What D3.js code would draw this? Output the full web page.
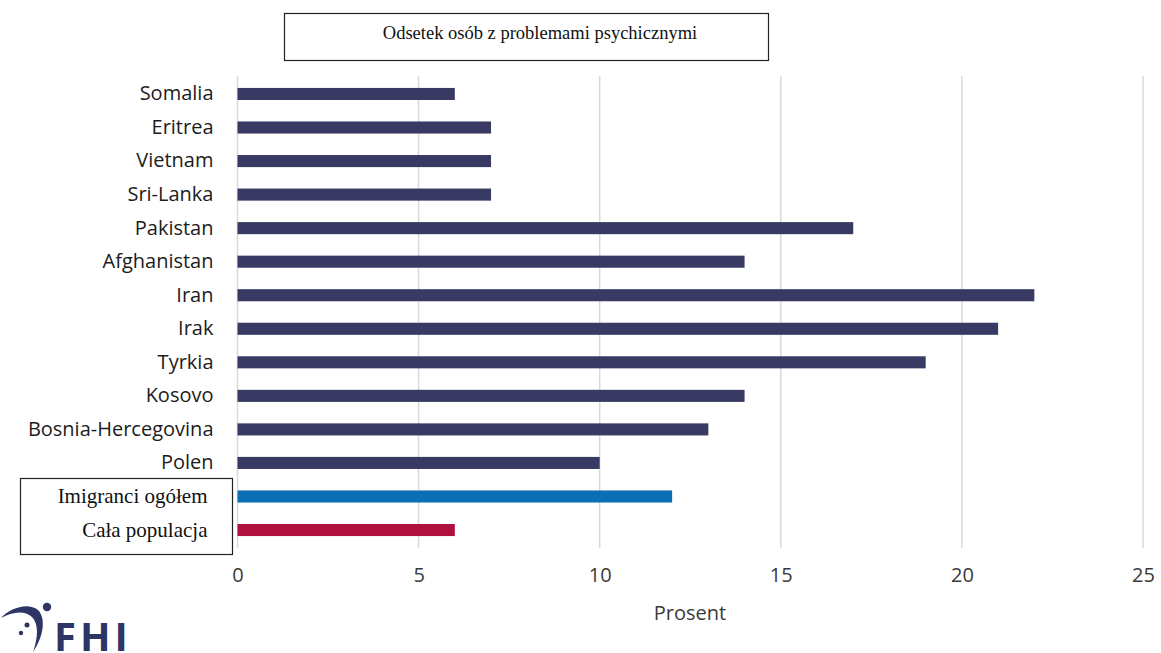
<!DOCTYPE html>
<html>
<head>
<meta charset="utf-8">
<script src="https://cdn.jsdelivr.net/npm/d3@7"></script>
<style>
  html, body { margin: 0; padding: 0; background: #fff; }
  svg { display: block; }
</style>
</head>
<body>
<svg id="chart" width="1161" height="653"></svg>
<script>
// Share of people with mental health problems, by country of origin
const categories = [
  "Somalia", "Eritrea", "Vietnam", "Sri-Lanka", "Pakistan", "Afghanistan",
  "Iran", "Irak", "Tyrkia", "Kosovo", "Bosnia-Hercegovina", "Polen",
  "Imigranci ogółem", "Cała populacja"
];
const values = [6, 7, 7, 7, 17, 14, 22, 21, 19, 14, 13, 10, 12, 6];
const groups = [
  "country", "country", "country", "country", "country", "country",
  "country", "country", "country", "country", "country", "country",
  "immigrants", "population"
];
const xTicks = [0, 5, 10, 15, 20, 25];
const titleText = "Odsetek osób z problemami psychicznymi";
const xAxisTitle = "Prosent";

const colors = { country: "#383a63", immigrants: "#0a6fb5", population: "#b0103f" };

const svg = d3.select("#chart");
const plot = { left: 237.5, right: 1143, top: 76, bottom: 548 };

const x = d3.scaleLinear().domain([0, 25]).range([plot.left, plot.right]);
const y = d3.scaleBand().domain(categories).range([77.2, 546.8]).paddingInner(0.64).paddingOuter(0.32);

// vertical gridlines
svg.append("g")
  .selectAll("line")
  .data(xTicks)
  .join("line")
  .attr("x1", d => x(d)).attr("x2", d => x(d))
  .attr("y1", plot.top).attr("y2", plot.bottom)
  .attr("stroke", "#d9d9d9").attr("stroke-width", 1.5);

// bars
svg.append("g")
  .selectAll("rect")
  .data(categories)
  .join("rect")
  .attr("x", x(0))
  .attr("y", d => y(d))
  .attr("width", (d, i) => x(values[i]) - x(0))
  .attr("height", y.bandwidth())
  .attr("fill", (d, i) => colors[groups[i]]);

// x axis tick labels
const xAxis = d3.axisBottom(x).tickValues(xTicks).tickSize(0).tickPadding(0);
const gx = svg.append("g").attr("transform", `translate(0, 568)`).call(xAxis);
gx.select(".domain").remove();
gx.selectAll("text")
  .attr("font-family", "'Open Sans', Lato, sans-serif")
  .attr("font-size", 20)
  .attr("fill", "#3a3a3a")
  .attr("dy", "0.71em");

svg.append("text")
  .attr("x", 690).attr("y", 620)
  .attr("text-anchor", "middle")
  .attr("font-family", "'Open Sans', Lato, sans-serif")
  .attr("font-size", 20)
  .attr("fill", "#3a3a3a")
  .text(xAxisTitle);

// category labels
const yAxis = d3.axisLeft(y).tickSize(0).tickPadding(24);
const gy = svg.append("g").attr("transform", `translate(${plot.left}, 0)`).call(yAxis);
gy.select(".domain").remove();
gy.selectAll(".tick text")
  .each(function(d, i) {
    const t = d3.select(this);
    if (groups[i] === "country") {
      t.attr("font-family", "'Open Sans', Lato, sans-serif")
        .attr("font-size", 20)
        .attr("fill", "#1c1c1c");
    } else {
      t.attr("x", -30)
        .attr("font-family", "'Liberation Serif', 'Times New Roman', serif")
        .attr("font-size", 21)
        .attr("fill", "#111");
    }
  });

// box around the summary rows' labels
svg.append("rect")
  .attr("x", 20.5).attr("y", 478.5)
  .attr("width", 212).attr("height", 76)
  .attr("fill", "none").attr("stroke", "#222").attr("stroke-width", 1.2);

// title box
svg.append("rect")
  .attr("x", 284.5).attr("y", 13.5)
  .attr("width", 484).attr("height", 47)
  .attr("fill", "#fff").attr("stroke", "#222").attr("stroke-width", 1.2);
svg.append("text")
  .attr("x", 540).attr("y", 39)
  .attr("text-anchor", "middle")
  .attr("font-family", "'Liberation Serif', 'Times New Roman', serif")
  .attr("font-size", 18.5)
  .attr("fill", "#111")
  .text(titleText);

// FHI logo
const logo = svg.append("g").attr("fill", "#2c3563");
logo.append("path")
  .attr("d", "M1,618 C10,608 28,602 38,610 C46,618 44,636 33,652 C38,638 39,624 32,617 C24,610 12,612 1,618 Z");
logo.append("circle").attr("cx", 47).attr("cy", 607).attr("r", 4.2);
logo.append("circle").attr("cx", 27).attr("cy", 625).attr("r", 2.5);
logo.append("circle").attr("cx", 21).attr("cy", 633).attr("r", 2.2);
logo.append("text")
  .attr("x", 54).attr("y", 651)
  .attr("font-family", "'Open Sans', Lato, sans-serif")
  .attr("font-weight", "bold")
  .attr("font-size", 40)
  .attr("letter-spacing", 4)
  .text("FHI");
</script>
</body>
</html>
